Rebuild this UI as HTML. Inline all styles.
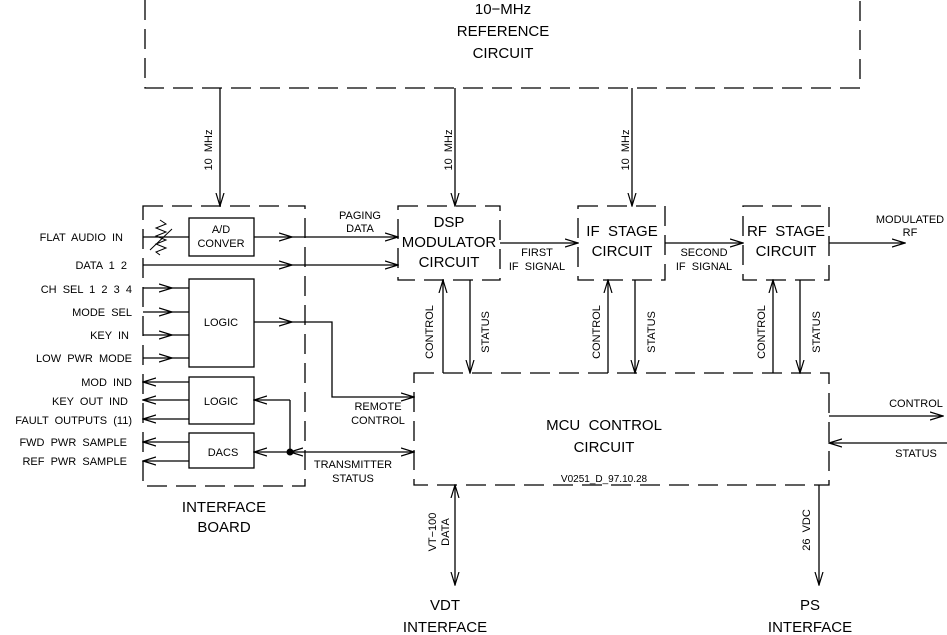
<!DOCTYPE html>
<html><head><style>body{margin:0;background:#fff}svg{display:block}text{font-family:"Liberation Sans",sans-serif;fill:#000;white-space:pre}</style></head><body>
<svg width="947" height="635" viewBox="0 0 947 635" xmlns="http://www.w3.org/2000/svg">
<defs>
<marker id="a" markerWidth="14" markerHeight="10" refX="13" refY="5" orient="auto" markerUnits="userSpaceOnUse"><path d="M0,1 L13,5 L0,9" fill="none" stroke="#000" stroke-width="1.2"/></marker>
<marker id="s" markerWidth="14" markerHeight="10" refX="13" refY="5" orient="auto-start-reverse" markerUnits="userSpaceOnUse"><path d="M0,1 L13,5 L0,9" fill="none" stroke="#000" stroke-width="1.2"/></marker>
</defs>
<g fill="none" stroke="#000" stroke-width="1.3">
<g stroke-dasharray="20,9">
<path d="M145,0 V88 H860 V0"/>
<rect x="143" y="206" width="162" height="280"/>
<rect x="398" y="206" width="102" height="74"/>
<rect x="578" y="206" width="87" height="74"/>
<rect x="743" y="206" width="86" height="74"/>
<rect x="414" y="373" width="415" height="112"/>
</g>
<rect x="189" y="218" width="65" height="38"/>
<rect x="189" y="279" width="65" height="88"/>
<rect x="189" y="377" width="65" height="47"/>
<rect x="189" y="433" width="65" height="35"/>
<path d="M220,88 V206" marker-end="url(#a)"/>
<path d="M455,88 V206" marker-end="url(#a)"/>
<path d="M632,88 V206" marker-end="url(#a)"/>
<path d="M143,237 H189"/>
<path d="M160,220 l6,4 -10,4 10,4 -10,4 10,4 -10,4 10,4 -10,4 4,3 M150,250 L172,229" stroke-width="1"/>
<path d="M254,237 H292" marker-end="url(#a)"/><path d="M292,237 H398" marker-end="url(#a)"/>
<path d="M143,265 H292" marker-end="url(#a)"/><path d="M292,265 H398" marker-end="url(#a)"/>
<path d="M143,288 H172" marker-end="url(#a)"/><path d="M172,288 H189"/>
<path d="M143,312 H172" marker-end="url(#a)"/><path d="M172,312 H189"/>
<path d="M143,335 H172" marker-end="url(#a)"/><path d="M172,335 H189"/>
<path d="M143,358 H172" marker-end="url(#a)"/><path d="M172,358 H189"/>
<path d="M189,382 H143" marker-end="url(#a)"/>
<path d="M189,400 H143" marker-end="url(#a)"/>
<path d="M189,419 H143" marker-end="url(#a)"/>
<path d="M189,442 H143" marker-end="url(#a)"/>
<path d="M189,461 H143" marker-end="url(#a)"/>
<path d="M254,322 H292" marker-end="url(#a)"/><path d="M292,322 H332 V397 H414" marker-end="url(#a)"/>
<path d="M290,400 H254" marker-end="url(#a)"/>
<path d="M290,400 V452 H254" marker-end="url(#a)"/>
<path d="M290,452 H414" marker-start="url(#s)" marker-end="url(#a)"/>
<path d="M500,243 H578" marker-end="url(#a)"/>
<path d="M665,243 H743" marker-end="url(#a)"/>
<path d="M829,243 H905" marker-end="url(#a)"/>
<path d="M443,373 V280" marker-end="url(#a)"/><path d="M470,280 V373" marker-end="url(#a)"/>
<path d="M608,373 V280" marker-end="url(#a)"/><path d="M635,280 V373" marker-end="url(#a)"/>
<path d="M773,373 V280" marker-end="url(#a)"/><path d="M800,280 V373" marker-end="url(#a)"/>
<path d="M829,416 H943" marker-end="url(#a)"/>
<path d="M947,443 H829" marker-end="url(#a)"/>
<path d="M455,485 V585" marker-start="url(#s)" marker-end="url(#a)"/>
<path d="M819,485 V585" marker-end="url(#a)"/>
</g>
<circle cx="290" cy="452" r="3.5" fill="#000"/>
<g font-size="15" text-anchor="middle">
<text x="503" y="14">10−MHz</text><text x="503" y="36">REFERENCE</text><text x="503" y="58">CIRCUIT</text>
<text x="449" y="227">DSP</text><text x="449" y="247">MODULATOR</text><text x="449" y="267">CIRCUIT</text>
<text x="622" y="236">IF  STAGE</text><text x="622" y="256">CIRCUIT</text>
<text x="786" y="236">RF  STAGE</text><text x="786" y="256">CIRCUIT</text>
<text x="604" y="430">MCU  CONTROL</text><text x="604" y="452">CIRCUIT</text>
<text x="224" y="512">INTERFACE</text><text x="224" y="532">BOARD</text>
<text x="445" y="610">VDT</text><text x="445" y="632">INTERFACE</text>
<text x="810" y="610">PS</text><text x="810" y="632">INTERFACE</text>
</g>
<g font-size="11" text-anchor="middle">
<text x="221" y="233">A/D</text><text x="221" y="247">CONVER</text>
<text x="221" y="326">LOGIC</text><text x="221" y="405">LOGIC</text><text x="223" y="456">DACS</text>
<text x="360" y="219">PAGING</text><text x="360" y="232">DATA</text>
<text x="537" y="256">FIRST</text><text x="537" y="270">IF  SIGNAL</text>
<text x="704" y="256">SECOND</text><text x="704" y="270">IF  SIGNAL</text>
<text x="910" y="223">MODULATED</text><text x="910" y="236">RF</text>
<text x="378" y="410">REMOTE</text><text x="378" y="424">CONTROL</text>
<text x="353" y="468">TRANSMITTER</text><text x="353" y="482">STATUS</text>
<text x="916" y="407">CONTROL</text><text x="916" y="457">STATUS</text>
<text x="604" y="482" font-size="10">V0251_D_97.10.28</text>
<text transform="translate(212,150) rotate(-90)">10  MHz</text>
<text transform="translate(452,150) rotate(-90)">10  MHz</text>
<text transform="translate(629,150) rotate(-90)">10  MHz</text>
<text transform="translate(433,332) rotate(-90)">CONTROL</text>
<text transform="translate(489,332) rotate(-90)">STATUS</text>
<text transform="translate(600,332) rotate(-90)">CONTROL</text>
<text transform="translate(655,332) rotate(-90)">STATUS</text>
<text transform="translate(765,332) rotate(-90)">CONTROL</text>
<text transform="translate(820,332) rotate(-90)">STATUS</text>
<text transform="translate(436,532) rotate(-90)">VT−100</text>
<text transform="translate(449,532) rotate(-90)">DATA</text>
<text transform="translate(810,530) rotate(-90)">26  VDC</text>
</g>
<g font-size="11" text-anchor="end">
<text x="123" y="241">FLAT  AUDIO  IN</text>
<text x="127" y="269">DATA  1  2</text>
<text x="132" y="293">CH  SEL  1  2  3  4</text>
<text x="132" y="316">MODE  SEL</text>
<text x="129" y="339">KEY  IN</text>
<text x="132" y="362">LOW  PWR  MODE</text>
<text x="132" y="386">MOD  IND</text>
<text x="128" y="405">KEY  OUT  IND</text>
<text x="132" y="424">FAULT  OUTPUTS  (11)</text>
<text x="127" y="446">FWD  PWR  SAMPLE</text>
<text x="127" y="465">REF  PWR  SAMPLE</text>
</g>
</svg>
</body></html>
